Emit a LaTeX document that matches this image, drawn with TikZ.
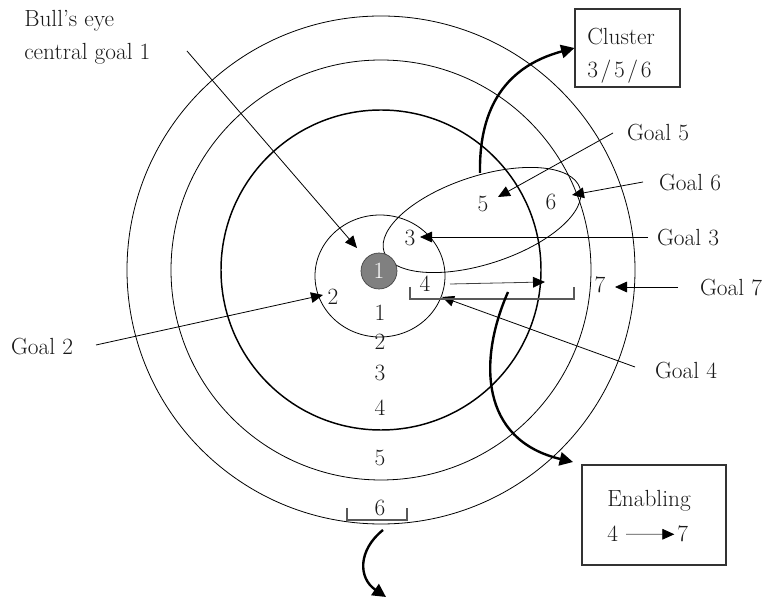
\documentclass[tikz,border=0pt]{standalone}
\usetikzlibrary{arrows.meta}
\begin{document}
\begin{tikzpicture}[x=0.75pt,y=-0.75pt,
  lbl/.style={inner sep=0pt, text=black!90, font=\fontsize{17.5}{21}\selectfont},
  ring/.style={line width=0.6pt},
  thickring/.style={line width=1.1pt},
  thinarrow/.style={line width=0.6pt, -{Triangle[length=9pt,width=8pt]}},
  bigarrow/.style={line width=1.8pt, -{Triangle[length=10pt,width=10pt]}},
  bracket/.style={line width=1.1pt, draw=black!65},
  box/.style={draw=black!80, line width=0.8pt, inner sep=0pt}
]
\useasboundingbox (0,0) rectangle (769,598);

% target rings
\draw[ring] (381,270) circle[radius=254];
\draw[ring] (381,270) circle[radius=210];
\draw[thickring] (381,270) circle[radius=160];
\draw[ring] (380,276) ellipse[x radius=65, y radius=61];

% cluster ellipse
\draw[ring, rotate around={18:(482,220)}] (482,220) ellipse[x radius=103, y radius=44];

% bull's eye
\node[circle, fill=black!50, draw=black!75, line width=0.5pt, minimum size=27pt,
      inner sep=0pt, text=white, font=\fontsize{17.5}{21}\selectfont] (bull) at (379,271) {1};

% ring numbers
\node[lbl] (r1) at (380,313) {1};
\node[lbl] (r2) at (380,342) {2};
\node[lbl] (r3) at (380,373) {3};
\node[lbl] (r4) at (380,408) {4};
\node[lbl] (r5) at (380,458) {5};
\node[lbl] (r6) at (380,508) {6};

% goal numbers
\node[lbl] (n2) at (333,297) {2};
\node[lbl] (n3) at (410,238) {3};
\node[lbl] (n4) at (425,284) {4};
\node[lbl] (n5) at (483,204) {5};
\node[lbl] (n6) at (551,202) {6};
\node[lbl] (n7) at (600,285) {7};

% goal labels
\node[lbl, anchor=base west] (bullA) at (24,27) {Bull's eye};
\node[lbl, anchor=base west] (bullB) at (24,60) {central goal 1};
\node[lbl] (goal5) at (658,133) {Goal 5};
\node[lbl] (goal6) at (690,183) {Goal 6};
\node[lbl] (goal3) at (688,238) {Goal 3};
\node[lbl] (goal7) at (731,288) {Goal 7};
\node[lbl] (goal4) at (686,371) {Goal 4};
\node[lbl] (goal2) at (42,347) {Goal 2};

% arrow end points
\coordinate (bullS) at (187,51);   \coordinate (bullT) at (357,248);
\coordinate (g5S) at (613,133);    \coordinate (g5T) at (498,197);
\coordinate (g6S) at (643,182);    \coordinate (g6T) at (572,195);
\coordinate (g3S) at (648,237);    \coordinate (g3T) at (420,237);
\coordinate (g7S) at (678,287);    \coordinate (g7T) at (615,287);
\coordinate (g4S) at (635,367);    \coordinate (g4T) at (442,297);
\coordinate (g2S) at (96,345);     \coordinate (g2T) at (323,295);
\coordinate (e4S) at (450,284);    \coordinate (e4T) at (545,282);

\draw[thinarrow] (bullS) -- (bullT);
\draw[thinarrow] (g5S) -- (g5T);
\draw[thinarrow] (g6S) -- (g6T);
\draw[thinarrow] (g3S) -- (g3T);
\draw[thinarrow] (g7S) -- (g7T);
\draw[thinarrow] (g4S) -- (g4T);
\draw[thinarrow] (g2S) -- (g2T);
\draw[thinarrow, draw=black!75, -{Triangle[length=9pt,width=8pt,color=black]}] (e4S) -- (e4T);

% brackets
\draw[bracket] (410,287) -- (410,299) -- (574,299) -- (574,287);
\draw[bracket] (347,508) -- (347,520) -- (407,520) -- (407,508);

% cluster box
\node[box, minimum width=78.75pt, minimum height=58.5pt] (cluster) at (627.5,48) {};
\node[lbl, anchor=base west] (clusterA) at (587,45) {Cluster};
\node[lbl, anchor=base west] (clusterB) at (587,78) {3\kern2pt/\kern2pt5\kern2pt/\kern2pt6};

% enabling box
\node[box, minimum width=108pt, minimum height=75pt] (enab) at (654,515) {};
\node[lbl, anchor=base west] (enabA) at (607,507) {Enabling};
\node[lbl, anchor=base west] (enab4) at (607,542) {4};
\node[lbl, anchor=base west] (enab7) at (677,542) {7};
\draw[line width=0.6pt, draw=black!70, -{Triangle[length=9pt,width=8pt,color=black]}]
  ([xshift=6pt]enab4.east) -- ([xshift=-2pt]enab7.west);

% big curved arrows
\coordinate (clS) at (480,173);
\coordinate (enS) at (508,292);
\coordinate (boS) at (383,530);
\coordinate (boT) at (386,597);
\draw[bigarrow] (clS) .. controls (479,115) and (500,68) .. (cluster.west);
\draw[bigarrow] (enS) .. controls (478,360) and (480,440) .. (573,462);
\draw[bigarrow] (boS) .. controls (358,550) and (358,578) .. (boT);
\end{tikzpicture}
\end{document}
